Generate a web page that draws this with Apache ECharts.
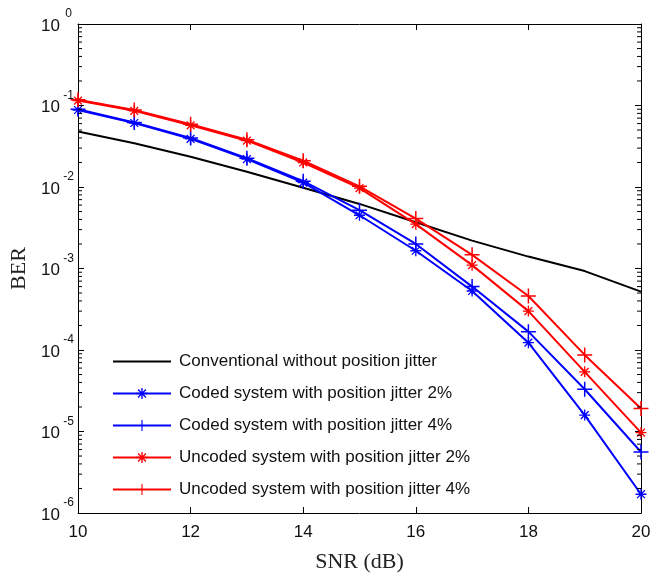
<!DOCTYPE html>
<html>
<head>
<meta charset="utf-8">
<script src="https://cdn.jsdelivr.net/npm/echarts@6/dist/echarts.min.js"></script>
<style>
html,body{margin:0;padding:0;background:#fff;}
#main{width:653px;height:575px;}
</style>
</head>
<body>
<div id="main"></div>
<script>
// SNR (dB) values on the x axis
var snr = [10, 11, 12, 13, 14, 15, 16, 17, 18, 19, 20];
var yExpLabels = ['0', '-1', '-2', '-3', '-4', '-5', '-6'];

// BER curves
var conventional = [0.048, 0.0344, 0.0235, 0.0154, 0.0098, 0.0062, 0.0037, 0.0022, 0.0014, 0.00093, 0.00052];
var coded2 = [0.088, 0.061, 0.039, 0.022, 0.0113, 0.0045, 0.00165, 0.00053, 0.000123, 1.59e-5, 1.7e-6];
var coded4 = [0.09, 0.062, 0.04, 0.0225, 0.0118, 0.0052, 0.002, 0.0006, 0.000168, 3.3e-5, 5.6e-6];
var uncoded2 = [0.115, 0.086, 0.057, 0.037, 0.02, 0.0097, 0.0035, 0.0011, 0.0003, 5.4e-5, 9.7e-6];
var uncoded4 = [0.118, 0.088, 0.059, 0.038, 0.021, 0.0102, 0.0041, 0.00147, 0.00046, 8.7e-5, 1.92e-5];

var names = [
  'Conventional without position jitter',
  'Coded system with position jitter 2%',
  'Coded system with position jitter 4%',
  'Uncoded system with position jitter 2%',
  'Uncoded system with position jitter 4%'
];

// marker shapes like matlab '*' and '+'
var plusPath = 'path://M-1,-10 L1,-10 L1,10 L-1,10 Z M-10,-1 L10,-1 L10,1 L-10,1 Z';
var starPath = 'path://M-1.2,-10 L1.2,-10 L1.2,10 L-1.2,10 Z M-10,-1.2 L10,-1.2 L10,1.2 L-10,1.2 Z ' +
  'M-7.9,-6.2 L-6.2,-7.9 L7.9,6.2 L6.2,7.9 Z M6.2,-7.9 L7.9,-6.2 L-6.2,7.9 L-7.9,6.2 Z';

function pairs(arr) {
  return snr.map(function (x, i) { return [x, arr[i]]; });
}

// minor ticks of the log axis (2..9 in each decade)
var minorTicks = [];
for (var d = -6; d < 0; d++) {
  for (var m = 2; m <= 9; m++) {
    minorTicks.push([10, m * Math.pow(10, d)]);
  }
}

var myChart = echarts.init(document.getElementById('main'));

function lineSeries(name, data, color, symbol, size) {
  return {
    name: name,
    type: 'line',
    data: pairs(data),
    symbol: symbol,
    symbolSize: size,
    showSymbol: symbol !== 'none',
    lineStyle: { color: color, width: 2 },
    itemStyle: { color: color },
    emphasis: { disabled: true },
    z: 3
  };
}

var option = {
  animation: false,
  backgroundColor: '#fff',
  grid: { left: 78, right: 12, top: 24, bottom: 62, outerBoundsMode: 'none' },
  legend: {
    data: [
      { name: names[0], itemStyle: { opacity: 0 } },
      names[1], names[2], names[3], names[4]
    ],
    orient: 'vertical',
    left: 107,
    top: 348,
    itemWidth: 58,
    itemHeight: 14,
    itemGap: 15,
    textStyle: { fontFamily: 'Liberation Sans, Arial', fontSize: 17, color: '#111', padding: [0, 0, 0, 3] }
  },
  xAxis: [{
    type: 'value',
    min: 10, max: 20, interval: 2,
    name: 'SNR (dB)',
    nameLocation: 'middle',
    nameGap: 38,
    nameTextStyle: { fontFamily: 'Liberation Serif, Times New Roman', fontSize: 22, color: '#222' },
    axisLine: { show: true, lineStyle: { color: '#000', width: 1 } },
    axisTick: { inside: true, length: 6, lineStyle: { color: '#000' } },
    axisLabel: { margin: 11, fontFamily: 'Liberation Sans, Arial', fontSize: 17, color: '#111' },
    splitLine: { show: false }
  }, {
    type: 'value',
    position: 'top',
    min: 10, max: 20, interval: 2,
    axisLine: { show: true, lineStyle: { color: '#000', width: 1 } },
    axisTick: { inside: true, length: 6, lineStyle: { color: '#000' } },
    axisLabel: { show: false },
    splitLine: { show: false }
  }],
  yAxis: [{
    type: 'log',
    logBase: 10,
    min: 1e-6, max: 1,
    name: 'BER',
    nameLocation: 'middle',
    nameGap: 39,
    nameTextStyle: { fontFamily: 'Liberation Serif, Times New Roman', fontSize: 22, color: '#222' },
    axisLine: { show: true, lineStyle: { color: '#000', width: 1 } },
    axisTick: { inside: true, length: 6, lineStyle: { color: '#000' } },
    axisLabel: {
      margin: 2,
      formatter: function (v) {
        var e = Math.round(Math.log(v) / Math.LN10);
        return '{b|10}{s|' + yExpLabels[-e] + '}';
      },
      rich: {
        b: { fontFamily: 'Liberation Sans, Arial', fontSize: 17, color: '#111', lineHeight: 16, padding: [12, 0, 8, 0] },
        s: { fontFamily: 'Liberation Sans, Arial', fontSize: 12, color: '#111', lineHeight: 12, width: 15, align: 'left', padding: [2, 0, 22, 1] }
      }
    },
    splitLine: { show: false }
  }, {
    type: 'log',
    logBase: 10,
    min: 1e-6, max: 1,
    position: 'right',
    axisLine: { show: true, lineStyle: { color: '#000', width: 1 } },
    axisTick: { inside: true, length: 6, lineStyle: { color: '#000' } },
    axisLabel: { show: false },
    splitLine: { show: false }
  }],
  series: [
    lineSeries(names[0], conventional, '#000000', 'none', 0),
    lineSeries(names[1], coded2, '#0000ff', starPath, 11),
    lineSeries(names[2], coded4, '#0000ff', plusPath, 15),
    lineSeries(names[3], uncoded2, '#ff0000', starPath, 11),
    lineSeries(names[4], uncoded4, '#ff0000', plusPath, 15),
    {
      type: 'custom',
      silent: true,
      clip: false,
      data: minorTicks,
      z: 5,
      renderItem: function (params, api) {
        var p = api.coord([10, api.value(1)]);
        var q = api.coord([20, api.value(1)]);
        return {
          type: 'group',
          children: [
            { type: 'line', shape: { x1: p[0], y1: p[1], x2: p[0] + 4, y2: p[1] }, style: { stroke: '#000', lineWidth: 1 } },
            { type: 'line', shape: { x1: q[0] - 4, y1: q[1], x2: q[0], y2: q[1] }, style: { stroke: '#000', lineWidth: 1 } }
          ]
        };
      }
    }
  ]
};

myChart.setOption(option, true);
window.onresize = myChart.resize;
</script>
</body>
</html>
